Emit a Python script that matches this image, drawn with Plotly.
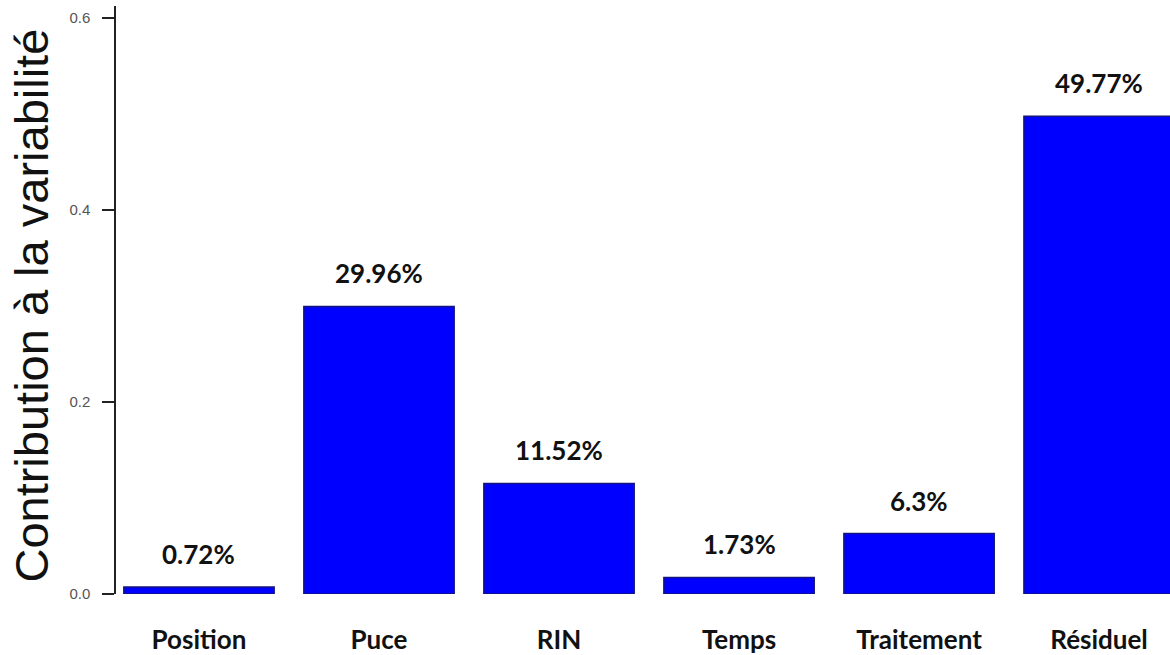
import plotly.graph_objects as go

categories = ["Position", "Puce", "RIN", "Temps", "Traitement", "Résiduel"]
values = [0.0072, 0.2996, 0.1152, 0.0173, 0.063, 0.4977]
labels = ["0.72%", "29.96%", "11.52%", "1.73%", "6.3%", "49.77%"]
y_ticks = [0.0, 0.2, 0.4, 0.6]
y_tick_labels = ["0.0", "0.2", "0.4", "0.6"]
y_title = "Contribution à la variabilité"

fig = go.Figure()
fig.add_trace(go.Bar(
    x=categories, y=values, width=0.835,
    marker=dict(color="#0000FF", line=dict(color="#14147a", width=1.5)),
    hoverinfo="skip",
))

for c, v, t in zip(categories, values, labels):
    fig.add_annotation(x=c, y=v, text=t, showarrow=False, yanchor="middle",
                       yshift=33, font=dict(family="Lato", size=26, color="#111111",
                                            weight="bold"))

fig.add_annotation(xref="paper", yref="paper", x=-0.08, y=0.49, text=y_title,
                   textangle=-90, showarrow=False, xanchor="center", yanchor="middle",
                   font=dict(family="Liberation Sans", size=47, color="#111111"))

fig.update_layout(
    width=1170, height=655,
    margin=dict(l=116, r=0, t=6, b=61),
    plot_bgcolor="white", paper_bgcolor="white",
    showlegend=False,
    xaxis=dict(range=[-0.461, 5.394], showline=False, showgrid=False, zeroline=False,
               ticks="", ticklabelstandoff=28,
               tickfont=dict(family="Lato", size=26, color="#111111", weight="bold")),
    yaxis=dict(range=[0, 0.6125], showline=True, linecolor="#222222", linewidth=1.5,
               showgrid=False, zeroline=False, ticks="outside", ticklen=12,
               tickcolor="#222222", tickwidth=1.5,
               tickvals=y_ticks, ticktext=y_tick_labels, ticklabelstandoff=9,
               tickfont=dict(family="Liberation Sans", size=15, color="#555555")),
)

fig.write_html("out.html", config={"displayModeBar": False},
               post_script="document.body.style.margin='0';document.body.style.overflow='hidden';")
